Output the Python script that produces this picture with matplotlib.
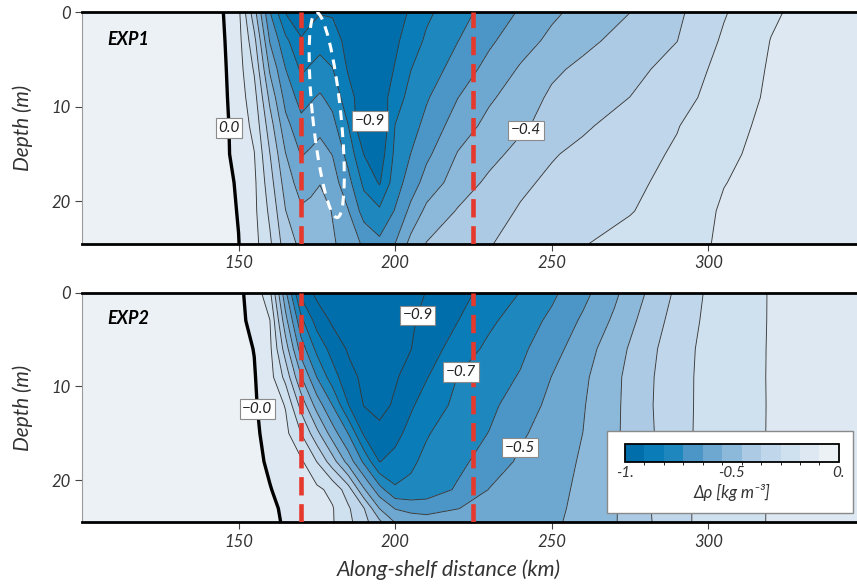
import numpy as np
import matplotlib.pyplot as plt
from matplotlib.colors import ListedColormap, BoundaryNorm
from matplotlib.patches import Circle, Rectangle
from matplotlib.transforms import Affine2D
from matplotlib.cm import ScalarMappable

plt.rcParams['font.family'] = ['Lato', 'DejaVu Sans']
plt.rcParams['font.style'] = 'italic'
plt.rcParams['contour.negative_linestyle'] = 'solid'

# ---- EXP1 section: along-shelf distance (km), depth (m), delta rho (kg m-3) per depth
x_exp1 = [100, 140, 145, 150, 155, 160, 165, 170, 173, 176, 180, 185, 190, 195,
          200, 205, 210, 220, 230, 240, 250, 260, 275, 290, 305, 320, 335, 350]
z_exp1 = [0, 3, 6, 9, 12, 15, 18, 21, 24.5]

exp1_0m = [0.045, 0.027, 0.002, -0.070, -0.327, -0.632, -0.823, -0.864, -0.845, -0.823, -0.827, -0.864, -0.882, -0.882,
           -0.859, -0.806, -0.745, -0.670, -0.603, -0.535, -0.471, -0.425, -0.364, -0.290, -0.189, -0.103, -0.055, -0.045]
exp1_3m = [0.045, 0.027, 0.009, -0.060, -0.245, -0.552, -0.704, -0.811, -0.784, -0.760, -0.780, -0.845, -0.873, -0.873,
           -0.836, -0.772, -0.713, -0.638, -0.561, -0.492, -0.434, -0.387, -0.327, -0.274, -0.169, -0.089, -0.055, -0.045]
exp1_6m = [0.045, 0.027, 0.014, -0.051, -0.192, -0.468, -0.635, -0.741, -0.716, -0.693, -0.724, -0.827, -0.868, -0.873,
           -0.812, -0.729, -0.685, -0.598, -0.516, -0.445, -0.381, -0.343, -0.300, -0.239, -0.152, -0.082, -0.055, -0.045]
exp1_9m = [0.045, 0.027, 0.018, -0.044, -0.147, -0.387, -0.578, -0.671, -0.647, -0.625, -0.665, -0.782, -0.873, -0.873,
           -0.769, -0.697, -0.646, -0.547, -0.467, -0.412, -0.348, -0.313, -0.272, -0.216, -0.139, -0.077, -0.055, -0.045]
exp1_12m = [0.045, 0.027, 0.023, -0.037, -0.115, -0.320, -0.515, -0.608, -0.589, -0.568, -0.608, -0.725, -0.918, -0.914,
            -0.725, -0.671, -0.610, -0.500, -0.429, -0.379, -0.331, -0.285, -0.234, -0.186, -0.119, -0.071, -0.055, -0.045]
exp1_15m = [0.045, 0.027, 0.023, -0.031, -0.088, -0.271, -0.452, -0.551, -0.533, -0.513, -0.548, -0.668, -0.820, -0.873,
            -0.706, -0.635, -0.565, -0.449, -0.391, -0.335, -0.280, -0.251, -0.214, -0.171, -0.105, -0.068, -0.055, -0.045]
exp1_18m = [0.045, 0.027, 0.027, -0.011, -0.073, -0.235, -0.404, -0.499, -0.479, -0.458, -0.505, -0.606, -0.748, -0.827,
            -0.678, -0.594, -0.509, -0.411, -0.346, -0.289, -0.256, -0.235, -0.201, -0.155, -0.093, -0.064, -0.055, -0.045]
exp1_21m = [0.045, 0.027, 0.027, -0.004, -0.070, -0.201, -0.362, -0.441, -0.432, -0.418, -0.459, -0.541, -0.675, -0.712,
            -0.630, -0.521, -0.433, -0.357, -0.307, -0.265, -0.243, -0.221, -0.187, -0.136, -0.082, -0.064, -0.055, -0.045]
exp1_bot = [0.045, 0.027, 0.018, 0.002, -0.061, -0.166, -0.318, -0.385, -0.402, -0.419, -0.443, -0.494, -0.559, -0.614,
            -0.544, -0.425, -0.359, -0.318, -0.277, -0.246, -0.216, -0.186, -0.150, -0.115, -0.082, -0.064, -0.055, -0.045]

# ---- EXP2 section
x_exp2 = [100, 140, 150, 155, 160, 165, 170, 175, 180, 185, 190, 195, 200, 205,
          210, 220, 230, 240, 250, 260, 270, 280, 290, 300, 310, 320, 335, 350]
z_exp2 = [0, 3, 6, 9, 12, 15, 18, 21, 23, 24.5]

exp2_0m = [0.045, 0.027, 0.014, -0.030, -0.161, -0.525, -0.844, -0.932, -0.950, -0.959, -0.964, -0.959, -0.950, -0.932,
           -0.907, -0.848, -0.788, -0.725, -0.655, -0.572, -0.473, -0.362, -0.255, -0.168, -0.125, -0.086, -0.055, -0.045]
exp2_3m = [0.045, 0.027, 0.018, -0.021, -0.089, -0.422, -0.705, -0.856, -0.923, -0.945, -0.955, -0.950, -0.936, -0.918,
           -0.890, -0.820, -0.745, -0.683, -0.617, -0.531, -0.440, -0.332, -0.235, -0.162, -0.123, -0.086, -0.055, -0.045]
exp2_6m = [0.045, 0.027, 0.023, -0.002, -0.070, -0.318, -0.591, -0.752, -0.855, -0.918, -0.941, -0.941, -0.927, -0.911,
           -0.864, -0.777, -0.707, -0.656, -0.579, -0.496, -0.403, -0.307, -0.217, -0.157, -0.118, -0.086, -0.055, -0.045]
exp2_9m = [0.045, 0.027, 0.023, 0.005, -0.055, -0.211, -0.450, -0.638, -0.778, -0.881, -0.927, -0.932, -0.918, -0.877,
           -0.824, -0.725, -0.680, -0.629, -0.544, -0.472, -0.385, -0.295, -0.213, -0.155, -0.116, -0.086, -0.055, -0.045]
exp2_12m = [0.045, 0.027, 0.027, 0.009, -0.040, -0.096, -0.306, -0.494, -0.638, -0.815, -0.912, -0.936, -0.897, -0.831,
            -0.779, -0.705, -0.657, -0.593, -0.522, -0.461, -0.382, -0.292, -0.211, -0.156, -0.118, -0.086, -0.055, -0.045]
exp2_15m = [0.045, 0.027, 0.027, 0.014, -0.025, -0.067, -0.184, -0.336, -0.502, -0.638, -0.832, -0.886, -0.845, -0.789,
            -0.734, -0.682, -0.634, -0.559, -0.505, -0.454, -0.379, -0.297, -0.210, -0.155, -0.116, -0.086, -0.055, -0.045]
exp2_18m = [0.045, 0.027, 0.027, 0.018, -0.011, -0.044, -0.077, -0.184, -0.324, -0.491, -0.654, -0.821, -0.791, -0.741,
            -0.709, -0.660, -0.596, -0.531, -0.490, -0.445, -0.376, -0.288, -0.208, -0.155, -0.116, -0.086, -0.055, -0.045]
exp2_21m = [0.045, 0.027, 0.027, 0.023, 0.003, -0.023, -0.047, -0.072, -0.115, -0.229, -0.442, -0.601, -0.714, -0.709,
            -0.691, -0.624, -0.543, -0.511, -0.479, -0.438, -0.374, -0.289, -0.208, -0.155, -0.116, -0.086, -0.055, -0.045]
exp2_23m = [0.045, 0.027, 0.027, 0.027, 0.014, -0.012, -0.036, -0.060, -0.085, -0.169, -0.267, -0.456, -0.550, -0.577,
            -0.582, -0.547, -0.522, -0.496, -0.472, -0.435, -0.372, -0.287, -0.206, -0.155, -0.116, -0.086, -0.055, -0.045]
exp2_bot = [0.045, 0.027, 0.027, 0.027, 0.018, -0.008, -0.034, -0.058, -0.084, -0.157, -0.241, -0.341, -0.456, -0.482,
            -0.500, -0.509, -0.500, -0.485, -0.466, -0.433, -0.371, -0.290, -0.206, -0.155, -0.116, -0.086, -0.055, -0.045]

# contour intervals: 11 bands between -1 and 0
levels = np.linspace(-1, 0, 12)
key_colors = ['#006eaa', '#0a7cb7', '#1e88be', '#4b96c6', '#6ea8d0', '#8cb9da',
              '#accae4', '#c0d6ea', '#cfe0ee', '#dde8f2', '#ecf1f6']
# shading of the sections runs one band behind the key
fill_cmap = ListedColormap([key_colors[0]] + key_colors[:-1])
fill_cmap.set_over(key_colors[-1])
key_cmap = ListedColormap(key_colors)
norm = BoundaryNorm(levels, 11)

# dashed section boundaries (km)
section_x = [170, 225]


def fmt(v):
    return f'{v:.1f}'.replace('-', '\u2212')


def put_label(ax, cs, spot):
    for t in ax.clabel(cs, manual=[spot], inline=False, fmt=fmt, fontsize=11, zorder=7):
        t.set_rotation(0)
        t.set_color('#222222')
        t.set_bbox(dict(boxstyle='square,pad=0.18', fc='white', ec='#8a8a8a', lw=0.8))


def draw_section(ax, xs, zs, rows, zero_level, zero_spot, labelled, name):
    drho = np.array(rows)
    ax.contourf(xs, zs, drho, levels=levels, cmap=fill_cmap, norm=norm, extend='max')
    marked = [levels[i] for i, _ in labelled]
    plain = [v for v in levels[1:-1] if v not in marked]
    ax.contour(xs, zs, drho, levels=plain, colors='#383838', linewidths=0.65,
               linestyles='solid')
    for i, spot in labelled:
        cs = ax.contour(xs, zs, drho, levels=[levels[i]], colors='#383838',
                        linewidths=0.65, linestyles='solid')
        put_label(ax, cs, spot)
    zero = ax.contour(xs, zs, drho, levels=[zero_level], colors='black', linewidths=2.4,
                      linestyles='solid')
    put_label(ax, zero, zero_spot)

    for xr in section_x:
        ax.axvline(xr, color='#e6392d', lw=3.3, dashes=(4, 1.9), zorder=4)
    ax.set_xlim(100, 347.5)
    ax.set_ylim(24.5, 0)
    ax.set_xticks([150, 200, 250, 300])
    ax.set_yticks([0, 10, 20])
    ax.tick_params(direction='out', length=5, width=0.8, color='#444444',
                   labelsize=12, labelcolor='#333333', pad=3)
    for side in ['top', 'bottom']:
        ax.spines[side].set_linewidth(2)
        ax.spines[side].set_color('black')
    ax.spines['left'].set_color('#9a9a9a')
    ax.spines['left'].set_linewidth(0.8)
    ax.spines['right'].set_visible(False)
    ax.set_ylabel('Depth (m)', fontsize=15, color='#333333')
    ax.yaxis.set_label_coords(-0.063, 0.5)
    ax.text(0.032, 0.885, name, transform=ax.transAxes, fontsize=13,
            fontweight='bold', va='center', ha='left')


fig = plt.figure(figsize=(8.57, 5.87), dpi=100)
ax1 = fig.add_axes([0.0957, 0.5843, 0.9043, 0.3945])
ax2 = fig.add_axes([0.0957, 0.1099, 0.9043, 0.3918])

draw_section(ax1, x_exp1, z_exp1,
             [exp1_0m, exp1_3m, exp1_6m, exp1_9m, exp1_12m,
              exp1_15m, exp1_18m, exp1_21m, exp1_bot],
             0.0, (147.5, 12.2), [(1, (192, 11.3)), (7, (240, 11.9))], 'EXP1')

# white dashed outline of the plume on the inner shelf
ring = Circle((0, 0), 1, fill=False, ec='white', lw=2.2, ls=(0, (3.2, 2.4)), zorder=5,
              transform=Affine2D().from_values(3.35, 10.85, 4.5, -0.15, 178.15, 10.85) + ax1.transData)
ax1.add_patch(ring)

draw_section(ax2, x_exp2, z_exp2,
             [exp2_0m, exp2_3m, exp2_6m, exp2_9m, exp2_12m, exp2_15m,
              exp2_18m, exp2_21m, exp2_23m, exp2_bot],
             -0.0, (156, 12.4), [(1, (205.8, 2.3)), (3, (220.1, 8.2)), (5, (239.8, 16.5))], 'EXP2')

ax2.set_xlabel('Along-shelf distance (km)', fontsize=15.5, color='#333333')
ax2.xaxis.set_label_coords(0.473, -0.16)

# colour key inside the lower panel
ax2.add_patch(Rectangle((0.677, 0.041), 0.318, 0.357, transform=ax2.transAxes,
                        fc='white', ec='#8a8a8a', lw=1, zorder=8))
cax = ax2.inset_axes([0.7006, 0.263, 0.276, 0.078])
cax.set_zorder(9)
cb = fig.colorbar(ScalarMappable(norm=norm, cmap=key_cmap), cax=cax,
                  orientation='horizontal', ticks=[-1, -0.5, 0])
cb.ax.set_xticklabels(['-1.', '-0.5', '0.'])
cb.ax.tick_params(length=0, labelsize=11, pad=3, labelcolor='#333333')
cb.outline.set_linewidth(1.3)
cb.set_label('Δρ [kg m⁻³]', fontsize=12, labelpad=3, color='#333333')

fig.savefig('out.png', dpi=100)
